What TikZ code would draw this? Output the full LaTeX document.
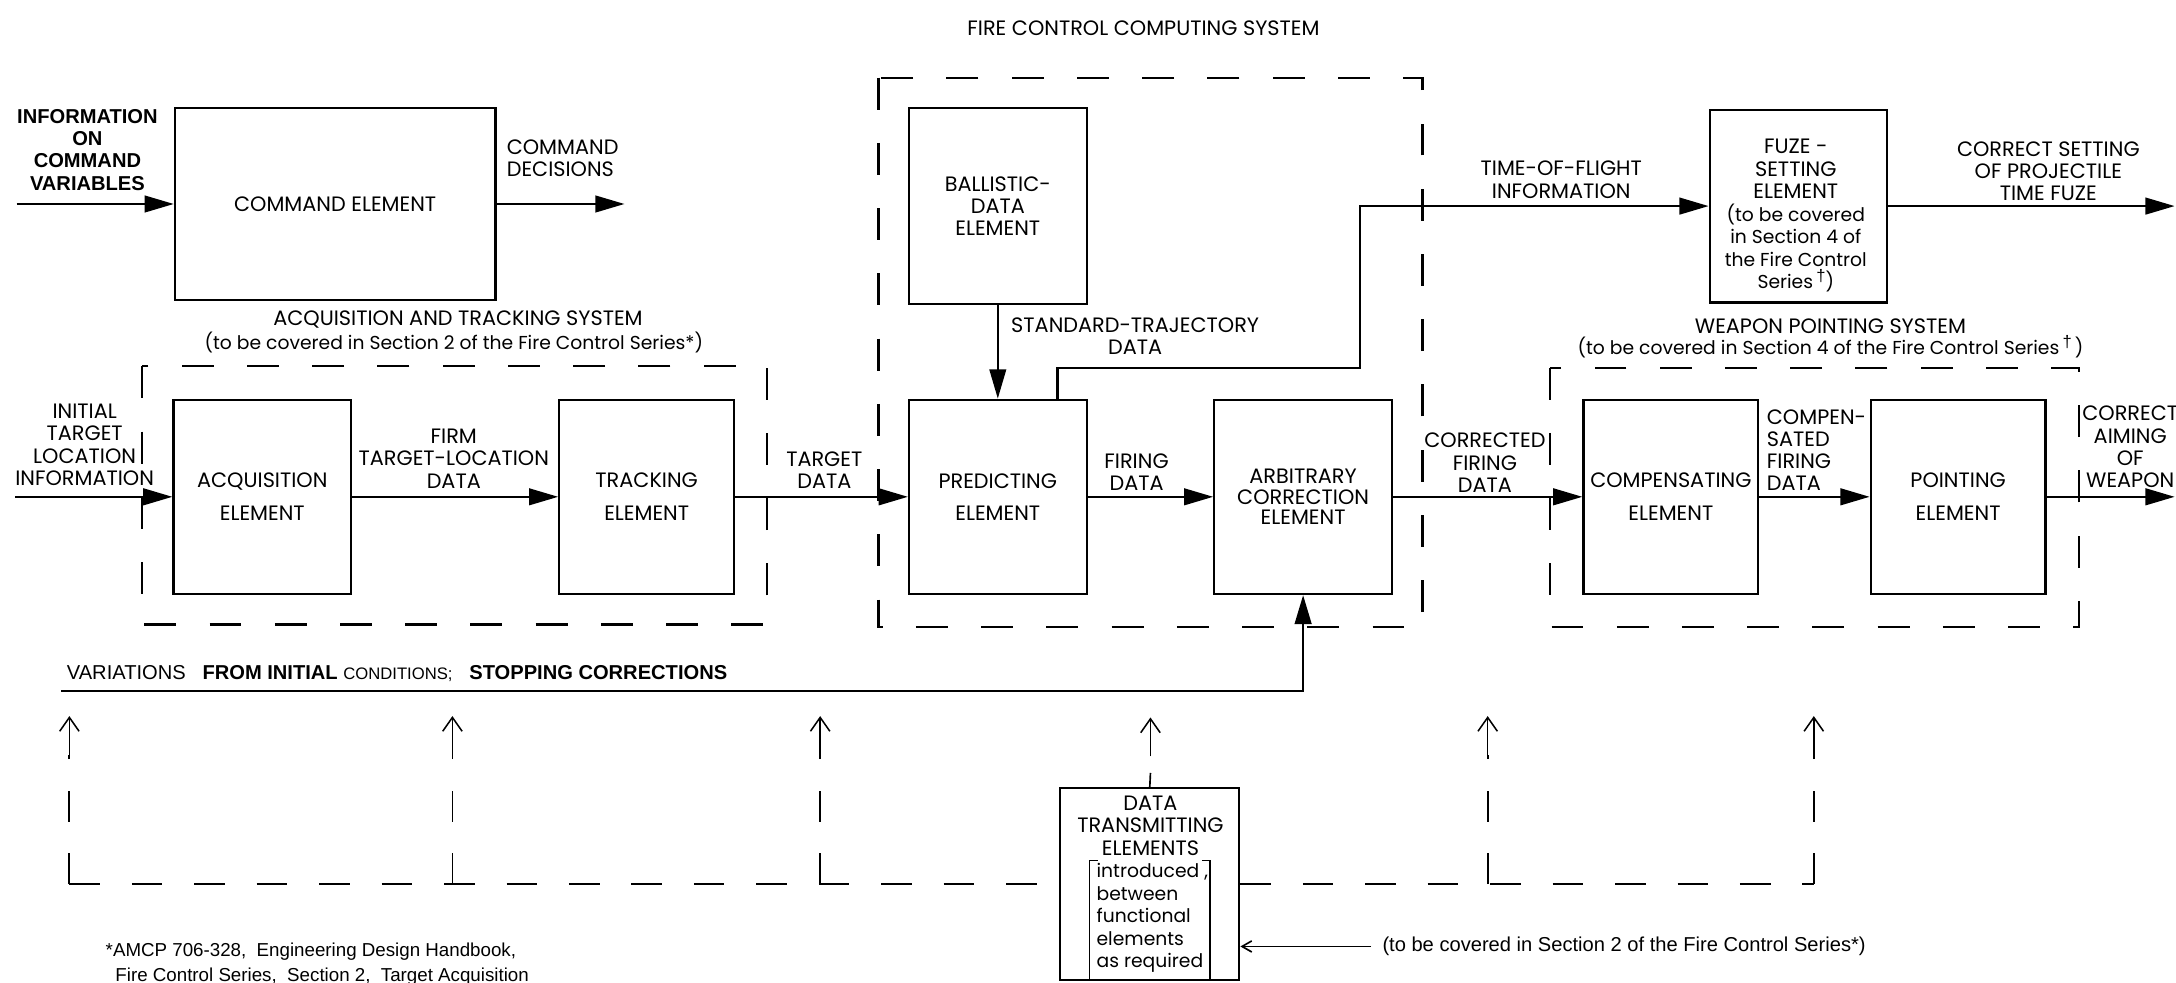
\documentclass[tikz,border=0pt]{standalone}
\usepackage{fontspec}
\setmainfont{Poppins}
\newfontfamily\hvfont{Liberation Sans}
\usetikzlibrary{arrows.meta}
\newcommand\fcft{\fontsize{15}{16}\selectfont}
\newcommand\fcsm{\fontsize{13.5}{16.2}\selectfont}
\newcommand\hvft{\hvfont\fontsize{13.5}{16}\selectfont}
\newcommand\dagr{\raisebox{5pt}{\hvfont\fontsize{12}{12}\selectfont †}}
\begin{document}
\begin{tikzpicture}[x=1pt,y=-1pt,
  box/.style={draw,line width=1.6pt,inner sep=0pt,align=center,font=\fcft},
  lbl/.style={inner sep=0pt,align=center,font=\fcft},
  sml/.style={inner sep=0pt,align=center,font=\fcsm},
  hv/.style={inner sep=0pt,align=center,font=\hvft},
  dbox/.style={draw,line width=1.5pt,dash pattern=on 23pt off 24pt},
  dline/.style={draw,line width=1.3pt,dash pattern=on 22pt off 23pt},
  arr/.style={line width=1.6pt,-{Triangle[length=21pt,width=12pt]}},
  thinarr/.style={line width=1.1pt,-{Straight Barb[length=10pt,width=14pt]}}]
\useasboundingbox (0,0) rectangle (1568,708);
\fill[white] (0,0) rectangle (1568,708);

% dashed system boundaries
\draw[dbox] (102,264) rectangle (553,450);
\draw[dbox] (633,56) rectangle (1025,452);
\draw[dbox] (1117,265) rectangle (1498,452);

% element boxes
\node[box,minimum width=231pt,minimum height=138pt] (cmd) at (241.5,147) {COMMAND ELEMENT};
\node[box,minimum width=128pt,minimum height=140pt] (acq) at (189,358) {ACQUISITION\\[8pt]ELEMENT};
\node[box,minimum width=126pt,minimum height=140pt] (trk) at (466,358) {TRACKING\\[8pt]ELEMENT};
\node[box,minimum width=128pt,minimum height=141pt] (bal) at (719,148.5) {BALLISTIC-\\DATA\\ELEMENT};
\node[box,minimum width=128pt,minimum height=140pt] (pred) at (719,358) {PREDICTING\\[7pt]ELEMENT};
\node[box,minimum width=128pt,minimum height=140pt] (arb) at (939,358) {ARBITRARY\\[-1.5pt]CORRECTION\\[-1.5pt]ELEMENT};
\node[box,minimum width=128pt,minimum height=139pt] (fuze) at (1296,148.5) {};
\node[box,minimum width=126pt,minimum height=140pt] (comp) at (1204,358) {COMPENSATING\\[8pt]ELEMENT};
\node[box,minimum width=126pt,minimum height=140pt] (point) at (1411,358) {POINTING\\[8pt]ELEMENT};
\node[box,minimum width=129pt,minimum height=138pt] (dtx) at (828.5,637) {};

% texts inside fuze and data boxes
\node[sml] (fuzet) at (1294,155.5) {{\fcft FUZE -}\\{\fcft SETTING}\\{\fcft ELEMENT}\\(to be covered\\in Section 4 of\\the Fire Control\\Series\,\dagr)};
\node[lbl] (dtxt) at (829,595) {DATA\\TRANSMITTING\\ELEMENTS};
\node[sml,align=left,anchor=west] (dtxb) at (790,661.5) {introduced ,\\between\\functional\\elements\\as required};
\draw[line width=1.3pt] (791,620) -- (785,620) -- (785,706) -- (791,706);
\draw[line width=1.3pt] (866,620) -- (872,620) -- (872,706) -- (866,706);

% labels
\node[lbl] (title) at (824,20) {FIRE CONTROL COMPUTING SYSTEM};
\node[hv,font=\hvfont\fontsize{14.5}{16}\selectfont\bfseries] (linfo) at (63,108) {INFORMATION\\ON\\COMMAND\\VARIABLES};
\node[lbl,align=left,anchor=west] (ldec) at (365,114) {COMMAND\\DECISIONS};
\node[lbl] (lats1) at (330,230) {ACQUISITION AND TRACKING SYSTEM};
\node[sml] (lats2) at (327,247) {(to be covered in Section 2 of the Fire Control Series*)};
\node[lbl] (linit) at (61,320.5) {INITIAL\\TARGET\\LOCATION\\INFORMATION};
\node[lbl] (lfirm) at (327,330.5) {FIRM\\TARGET-LOCATION\\DATA};
\node[lbl] (ltgt) at (594,339) {TARGET\\DATA};
\node[lbl] (lstd) at (818,242) {STANDARD-TRAJECTORY\\DATA};
\node[lbl] (lfir) at (819,340.5) {FIRING\\DATA};
\node[lbl] (ltof) at (1125,129.5) {TIME-OF-FLIGHT\\INFORMATION};
\node[lbl] (lcset) at (1476,123.5) {CORRECT SETTING\\OF PROJECTILE\\TIME FUZE};
\node[lbl] (lwps1) at (1319,235) {WEAPON POINTING SYSTEM};
\node[sml] (lwps2) at (1319,250) {(to be covered in Section 4 of the Fire Control Series\,\dagr\,)};
\node[lbl] (lcor) at (1070,333.5) {CORRECTED\\FIRING\\DATA};
\node[lbl,align=left,anchor=west] (lcomp) at (1273,324.5) {COMPEN-\\SATED\\FIRING\\DATA};
\node[lbl] (laim) at (1535,322) {CORRECT\\AIMING\\OF\\WEAPON};
\node[hv,anchor=west,font=\hvfont\fontsize{14.5}{16}\selectfont] (lvar) at (48,485) {VARIATIONS\ \ \ {\bfseries FROM INITIAL} {\fontsize{12}{12}\selectfont CONDITIONS;}\ \ \ {\bfseries STOPPING CORRECTIONS}};
\node[hv,anchor=west,font=\hvfont\fontsize{14.5}{16}\selectfont] (lnote) at (996,682) {(to be covered in Section 2 of the Fire Control Series*)};
\node[hv,anchor=base west] (lfn1) at (76,689) {*AMCP 706-328,\ \ Engineering Design Handbook,};
\node[hv,anchor=base west] (lfn2) at (83,707) {Fire Control Series,\ \ Section 2,\ \ Target Acquisition};

% connectors
\coordinate (in1) at (12,147);
\coordinate (out1) at (450,147);
\coordinate (in2) at (11,358);
\coordinate (out2) at (1567,358);
\coordinate (out3) at (1567,148.5);
\coordinate (tof) at (980,265);
\coordinate (var) at (44,498);
\draw[arr] (in1) -- (cmd.west);
\draw[arr] (cmd.east) -- (out1);
\draw[arr] (in2) -- (acq.west);
\draw[arr] (acq.east) -- (trk.west);
\draw[arr] (trk.east) -- (pred.west);
\draw[arr] (pred.east) -- (arb.west);
\draw[arr] (arb.east) -- (comp.west);
\draw[arr] (comp.east) -- (point.west);
\draw[arr] (point.east) -- (out2);
\draw[arr,line width=1.3pt] (bal.south) -- (pred.north);
\draw[arr] ([xshift=43pt]pred.north) |- (tof) |- (fuze.west);
\draw[arr] (fuze.east) -- (out3);
\draw[arr,line width=1.9pt] (var) -| (arb.south);

% data transmitting network
\foreach \n/\x in {a/50,b/326,c/591,d/1072,e/1307}{
  \coordinate (b\n) at (\x,637);
  \coordinate (m\n) at (\x,544);
  \coordinate (t\n) at (\x,516);
  \draw[dline] (b\n) -- (m\n);
  \draw[thinarr] (m\n) -- (t\n);
}
\draw[dline] (ba) -- (dtx.west);
\draw[dline] (dtx.east) -- (be);
\coordinate (dtop) at (829,557);
\coordinate (dm) at (829,545);
\coordinate (dt) at (829,517);
\draw[line width=1.2pt] (dtx.north) -- (dtop);
\draw[thinarr] (dm) -- (dt);
\coordinate (nt) at (988,682);
\draw[line width=1.2pt,-{Straight Barb[length=7pt,width=8pt]}] (nt) -- (dtx.east |- nt);
\end{tikzpicture}
\end{document}
